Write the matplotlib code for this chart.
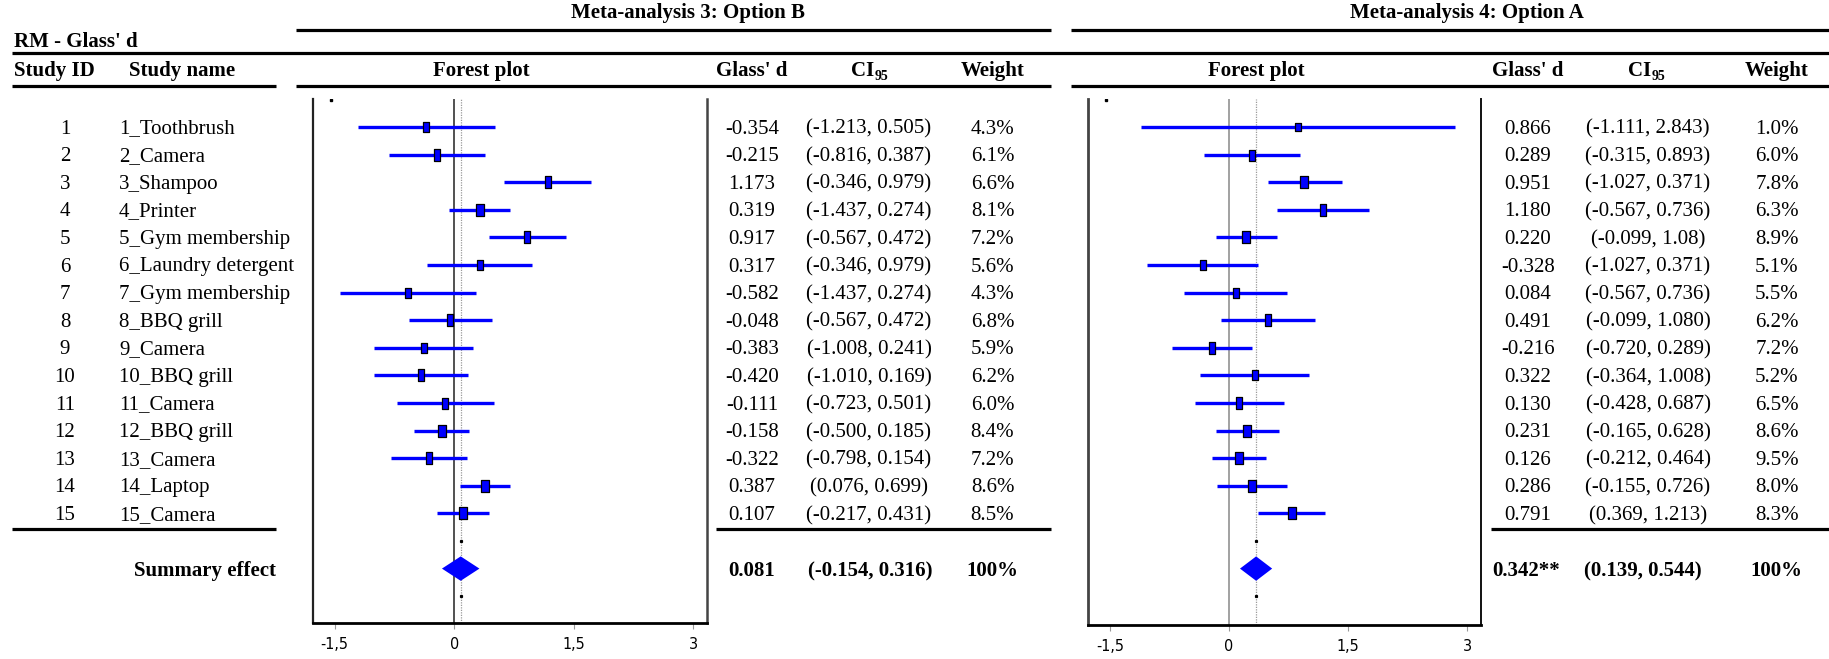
import matplotlib
matplotlib.use("Agg")
import matplotlib.pyplot as plt
from matplotlib.path import Path
from matplotlib.patches import Polygon
from matplotlib import font_manager
import numpy as np

# ---------------- data ----------------
study_ids = list(range(1, 16))
study_names = ["1_Toothbrush", "2_Camera", "3_Shampoo", "4_Printer", "5_Gym membership",
               "6_Laundry detergent", "7_Gym membership", "8_BBQ grill", "9_Camera",
               "10_BBQ grill", "11_Camera", "12_BBQ grill", "13_Camera", "14_Laptop", "15_Camera"]

ma3_est = [-0.354, -0.215, 1.173, 0.319, 0.917, 0.317, -0.582, -0.048, -0.383, -0.420,
           -0.111, -0.158, -0.322, 0.387, 0.107]
ma3_lo = [-1.213, -0.816, 0.63, -0.06, 0.44, -0.346, -1.437, -0.567, -1.008, -1.010,
          -0.723, -0.500, -0.798, 0.076, -0.217]
ma3_hi = [0.505, 0.387, 1.71, 0.70, 1.40, 0.979, 0.274, 0.472, 0.241, 0.169,
          0.501, 0.185, 0.154, 0.699, 0.431]
ma3_ci_text = ["(-1.213, 0.505)", "(-0.816, 0.387)", "(-0.346, 0.979)", "(-1.437, 0.274)",
               "(-0.567, 0.472)", "(-0.346, 0.979)", "(-1.437, 0.274)", "(-0.567, 0.472)",
               "(-1.008, 0.241)", "(-1.010, 0.169)", "(-0.723, 0.501)", "(-0.500, 0.185)",
               "(-0.798, 0.154)", "(0.076, 0.699)", "(-0.217, 0.431)"]
ma3_weight = [4.3, 6.1, 6.6, 8.1, 7.2, 5.6, 4.3, 6.8, 5.9, 6.2, 6.0, 8.4, 7.2, 8.6, 8.5]
ma3_sum = 0.081
ma3_sum_lo, ma3_sum_hi = -0.154, 0.316
ma3_sum_text = ["0.081", "(-0.154, 0.316)", "100%"]

ma4_est = [0.866, 0.289, 0.951, 1.180, 0.220, -0.328, 0.084, 0.491, -0.216, 0.322,
           0.130, 0.231, 0.126, 0.286, 0.791]
ma4_lo = [-1.111, -0.315, 0.49, 0.61, -0.16, -1.027, -0.567, -0.099, -0.720, -0.364,
          -0.428, -0.165, -0.212, -0.155, 0.369]
ma4_hi = [2.843, 0.893, 1.42, 1.76, 0.60, 0.371, 0.736, 1.080, 0.289, 1.008,
          0.687, 0.628, 0.464, 0.726, 1.213]
ma4_ci_text = ["(-1.111, 2.843)", "(-0.315, 0.893)", "(-1.027, 0.371)", "(-0.567, 0.736)",
               "(-0.099, 1.08)", "(-1.027, 0.371)", "(-0.567, 0.736)", "(-0.099, 1.080)",
               "(-0.720, 0.289)", "(-0.364, 1.008)", "(-0.428, 0.687)", "(-0.165, 0.628)",
               "(-0.212, 0.464)", "(-0.155, 0.726)", "(0.369, 1.213)"]
ma4_weight = [1.0, 6.0, 7.8, 6.3, 8.9, 5.1, 5.5, 6.2, 7.2, 5.2, 6.5, 8.6, 9.5, 8.0, 8.3]
ma4_sum = 0.342
ma4_sum_lo, ma4_sum_hi = 0.139, 0.544
ma4_sum_text = ["0.342**", "(0.139, 0.544)", "100%"]

xticks = [-1.5, 0, 1.5, 3]
xtick_labels = ["-1,5", "0", "1,5", "3"]

# ---------------- figure ----------------
W, H = 1829, 659
fig = plt.figure(figsize=(W / 100, H / 100), dpi=100)
SERIF = ["Liberation Serif", "DejaVu Serif"]
FS = 15

installed = {f.name for f in font_manager.fontManager.ttflist}
if "Liberation Sans Narrow" in installed:
    TICK_FAMILY, TICK_STRETCH = ["Liberation Sans Narrow"], "normal"
else:
    TICK_FAMILY, TICK_STRETCH = ["DejaVu Sans"], "condensed"

ov = fig.add_axes([0, 0, 1, 1])
ov.set_xlim(0, W)
ov.set_ylim(H, 0)
ov.axis("off")

ROW0, DROW = 127.0, 27.6
def row_y(k):
    return ROW0 + (k - 1) * DROW

def txt(x, y, s, ha="center", bold=False, size=FS):
    ov.text(x, y, s, ha=ha, va="center", fontsize=size, family=SERIF,
            fontweight="bold" if bold else "normal", color="black")

def hline(x0, x1, y, lw=2.3):
    ov.plot([x0, x1], [y, y], color="black", lw=lw, solid_capstyle="butt")

# header lines
hline(296, 1051, 30)
hline(1071, W, 30)
hline(12, W, 53)
hline(12, 276, 86); hline(296, 1051, 86); hline(1071, W, 86)
hline(12, 276, 529); hline(716, 1051, 529); hline(1491, W, 529)

# header texts
txt(688, 13, "Meta-analysis 3: Option B", bold=True)
txt(1467, 13, "Meta-analysis 4: Option A", bold=True)
txt(14, 42, "RM - Glass' d", ha="left", bold=True)
HY = 71
txt(14, HY, "Study ID", ha="left", bold=True)
txt(129, HY, "Study name", ha="left", bold=True)
for fp_x, gd_x, ci_x, w_x in [(481, 752, 869, 993), (1256, 1528, 1646, 1777)]:
    txt(fp_x, HY, "Forest plot", bold=True)
    txt(gd_x, HY, "Glass' d", bold=True)
    txt(ci_x - 6, HY, "CI", bold=True)
    ov.text(ci_x + 6, HY + 5, "95", ha="left", va="center", fontsize=10,
            family=SERIF, fontweight="bold")
    txt(w_x, HY, "Weight", bold=True)

# rows text
for i in range(15):
    y = row_y(i + 1) + 2
    txt(65, y, str(study_ids[i]))
    txt(119, y, study_names[i], ha="left")
    txt(752, y, f"{ma3_est[i]:.3f}")
    txt(869, y, ma3_ci_text[i])
    txt(992.5, y, f"{ma3_weight[i]:.1f}%")
    txt(1528, y, f"{ma4_est[i]:.3f}")
    txt(1648, y, ma4_ci_text[i])
    txt(1777, y, f"{ma4_weight[i]:.1f}%")

SY = 571
txt(276, SY, "Summary effect", ha="right", bold=True)
for x, s in zip([752, 870, 992], ma3_sum_text):
    txt(x, SY, s, bold=True)
for x, s in zip([1526, 1642.5, 1776], ma4_sum_text):
    txt(x, SY, s, bold=True)

# ---------------- forest plots ----------------
rect_marker = Path([(-0.3, -0.5), (0.3, -0.5), (0.3, 0.5), (-0.3, 0.5), (-0.3, -0.5)],
                   [Path.MOVETO, Path.LINETO, Path.LINETO, Path.LINETO, Path.CLOSEPOLY])

def px_box(x0, x1, ytop, ybot):
    return [x0 / W, 1 - ybot / H, (x1 - x0) / W, (ybot - ytop) / H]

def forest(box, ytop, ybot, est, lo, hi, wts, s_est, s_lo, s_hi, zero_color,
           left_lw, left_color, right_lw, right_color):
    ax = fig.add_axes(box)
    ax.set_facecolor("none")
    ax.set_xlim(-1.775, 3.17)
    k_top = 1 + (ytop - ROW0) / DROW
    k_bot = 1 + (ybot - ROW0) / DROW
    ax.set_ylim(k_bot, k_top)
    rows = np.arange(1, 16)
    ax.axvline(0, color=zero_color, lw=1.1, zorder=1)
    ax.axvline(s_est, color="#9a9a9a", lw=0.9, ls=(0, (1, 1)), zorder=1)
    ax.hlines(rows, lo, hi, color="#0000ff", lw=2.4, zorder=2)
    for r, e, w in zip(rows, est, wts):
        hpx = 8 + 0.5 * w
        ax.plot([e], [r], marker=rect_marker, markersize=hpx * 0.72,
                markerfacecolor="#0000ff", markeredgecolor="black",
                markeredgewidth=0.9, zorder=3)
    hh = 12.2 / DROW
    ax.add_patch(Polygon([(s_lo, 17), (s_est, 17 - hh), (s_hi, 17), (s_est, 17 + hh)],
                         closed=True, facecolor="#0000ff", edgecolor="none", zorder=3))
    ax.plot([s_est, s_est], [16, 18], ls="none", marker="s", markersize=1.3,
            color="black", zorder=4)
    ax.plot([-1.55], [0.03], ls="none", marker="s", markersize=1.5, color="black")
    ax.spines["top"].set_visible(False)
    ax.spines["left"].set_linewidth(left_lw)
    ax.spines["left"].set_color(left_color)
    ax.spines["right"].set_linewidth(right_lw)
    ax.spines["right"].set_color(right_color)
    ax.spines["bottom"].set_linewidth(2.0)
    ax.spines["bottom"].set_color("black")
    ax.set_yticks([])
    ax.set_xticks(xticks)
    ax.set_xticklabels(xtick_labels, family=TICK_FAMILY, fontstretch=TICK_STRETCH,
                       fontsize=11.5)
    ax.tick_params(axis="x", length=4, width=0.8, color="#999999", pad=6)
    return ax

forest(px_box(312.7, 707, 98.5, 623), 98.5, 623, ma3_est, ma3_lo, ma3_hi, ma3_weight,
       ma3_sum, ma3_sum_lo, ma3_sum_hi, "#222222", 1.6, "#222222", 1.8, "#444444")
forest(px_box(1088, 1480.7, 99, 625), 99, 625, ma4_est, ma4_lo, ma4_hi, ma4_weight,
       ma4_sum, ma4_sum_lo, ma4_sum_hi, "#888888", 2.0, "#444444", 1.4, "#111111")

fig.savefig("out.png", dpi=100)
